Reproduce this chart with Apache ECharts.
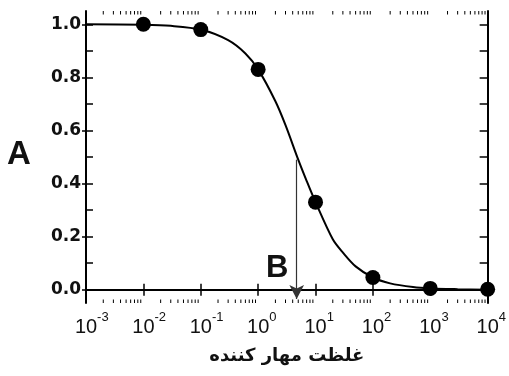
<!DOCTYPE html>
<html><head><meta charset="utf-8">
<script src="https://cdn.jsdelivr.net/npm/echarts@6/dist/echarts.min.js"></script>
<style>html,body{margin:0;padding:0;background:#fff}#c{width:509px;height:376px}</style>
</head><body><div id="c"></div>
<script>
// measured points (inhibitor concentration vs activity)
const pointX = [0.01, 0.1, 1, 10, 100, 1000, 10000];
const pointY = [1.0, 0.98, 0.83, 0.33, 0.046, 0.005, 0.002];
// fitted curve
const curveX = [0.001, 0.01, 0.03, 0.1, 0.3, 0.6, 1, 2, 3, 5, 7, 10, 20, 30, 50, 100, 200, 500, 1000, 3000, 10000];
const curveY = [1.0, 0.998, 0.994, 0.98, 0.94, 0.89, 0.83, 0.71, 0.62, 0.49, 0.41, 0.33, 0.19, 0.14, 0.088, 0.046, 0.024, 0.01, 0.005, 0.002, 0.0];
// arrow marking the half-inhibition concentration
const arrowX = 4.7;
const arrowTop = 0.49;
const arrowBottom = -0.035;
// axes
const xMin = 0.001, xMax = 10000;
const yMin = -0.05, yMax = 1.05;
const xDecades = [0.001, 0.01, 0.1, 1, 10, 100, 1000];
const xMinorMultiples = [2, 3, 4, 5, 6, 7, 8, 9];
const yLabelValues = [0, 0.2, 0.4, 0.6, 0.8, 1.0];
const yMinorValues = [0, 0.1, 0.2, 0.3, 0.4, 0.5, 0.6, 0.7, 0.8, 0.9, 1.0];
const xTitle = 'غلظت مهار کننده';
const labelA = 'A';
const labelB = 'B';

const minorTicks = [];
xDecades.forEach(d => xMinorMultiples.forEach(m => minorTicks.push([d * m, 0])));

const chart = echarts.init(document.getElementById('c'), null, {renderer: 'canvas'});
const black = '#000';
const axisLineStyle = {color: black, width: 2};
const supStyle = {fontSize: 13, fontFamily: 'Liberation Sans', lineHeight: 13, verticalAlign: 'top', color: '#111'};

chart.setOption({
  animation: false,
  backgroundColor: '#fff',
  grid: {left: 86, right: 21, top: 11, bottom: 73, containLabel: false},
  xAxis: [
    {
      type: 'log', logBase: 10, min: xMin, max: xMax, interval: 1, position: 'bottom',
      axisLine: {lineStyle: axisLineStyle},
      axisTick: {inside: true, length: 6, lineStyle: {color: black, width: 1.5}},
      splitLine: {show: false},
      axisLabel: {
        margin: 8,
        formatter: v => { const e = Math.round(Math.log10(v)); return '{p|' + e + '}{b|10}{s|' + e + '}'; },
        rich: {
          b: {fontSize: 20, fontFamily: 'Liberation Sans', lineHeight: 26, verticalAlign: 'bottom', color: '#111'},
          s: supStyle,
          p: Object.assign({}, supStyle, {color: 'rgba(0,0,0,0)'})
        }
      },
      name: xTitle, nameLocation: 'middle', nameGap: 44,
      nameTextStyle: {fontFamily: 'DejaVu Sans', fontWeight: 'bold', fontSize: 18, color: '#111'}
    },
    {
      type: 'log', logBase: 10, min: xMin, max: xMax, interval: 1, position: 'top',
      axisLine: {lineStyle: axisLineStyle},
      axisTick: {inside: true, length: 6, lineStyle: {color: black, width: 1.5}},
      axisLabel: {show: false}, splitLine: {show: false}
    }
  ],
  yAxis: [
    {
      type: 'value', min: yMin, max: yMax, position: 'left',
      axisLine: {lineStyle: axisLineStyle},
      axisTick: {inside: false, length: 4, customValues: yLabelValues, lineStyle: {color: black, width: 1.5}},
      axisLabel: {customValues: yLabelValues, margin: 5, formatter: v => v.toFixed(1),
        fontFamily: 'DejaVu Sans', fontWeight: 'bold', fontSize: 17, color: '#111'},
      splitLine: {show: false}
    },
    {
      type: 'value', min: yMin, max: yMax, position: 'left',
      axisLine: {show: false},
      axisTick: {inside: true, length: 7, customValues: yMinorValues, lineStyle: {color: black, width: 1.5}},
      axisLabel: {show: false}, splitLine: {show: false}
    },
    {
      type: 'value', min: yMin, max: yMax, position: 'right',
      axisLine: {lineStyle: axisLineStyle},
      axisTick: {inside: true, length: 8, customValues: yMinorValues, lineStyle: {color: black, width: 1.5}},
      axisLabel: {show: false}, splitLine: {show: false}
    }
  ],
  graphic: [
    {type: 'text', left: 7, top: 138, style: {text: labelA, font: 'bold 33px "Liberation Sans"', fill: '#111'}},
    {type: 'text', left: 266, top: 253, style: {text: labelB, font: 'bold 31px "Liberation Sans"', fill: '#111'}}
  ],
  series: [
    {
      type: 'custom', xAxisIndex: 0, yAxisIndex: 0, silent: true, clip: false,
      data: minorTicks,
      renderItem: (params, api) => {
        const x = api.value(0);
        const b = api.coord([x, yMin]);
        const t = api.coord([x, yMax]);
        return {type: 'group', children: [
          {type: 'line', shape: {x1: b[0], y1: b[1], x2: b[0], y2: b[1] - 3.5}, style: {stroke: black, lineWidth: 1}},
          {type: 'line', shape: {x1: t[0], y1: t[1], x2: t[0], y2: t[1] + 3.5}, style: {stroke: black, lineWidth: 1}}
        ]};
      }
    },
    {
      type: 'line', xAxisIndex: 0, yAxisIndex: 0, smooth: 0.3, showSymbol: false, silent: true,
      data: curveX.map((x, i) => [x, curveY[i]]),
      lineStyle: {color: black, width: 2},
      markLine: {
        silent: true, symbol: ['none', 'arrow'], symbolSize: [11, 14],
        label: {show: false},
        lineStyle: {color: '#333', width: 1.2, type: 'solid'},
        data: [[{coord: [arrowX, arrowTop]}, {coord: [arrowX, arrowBottom]}]]
      }
    },
    {
      type: 'scatter', xAxisIndex: 0, yAxisIndex: 0, symbolSize: 15, silent: true,
      itemStyle: {color: black, opacity: 1},
      data: pointX.map((x, i) => [x, pointY[i]])
    }
  ]
});
</script>
</body></html>
